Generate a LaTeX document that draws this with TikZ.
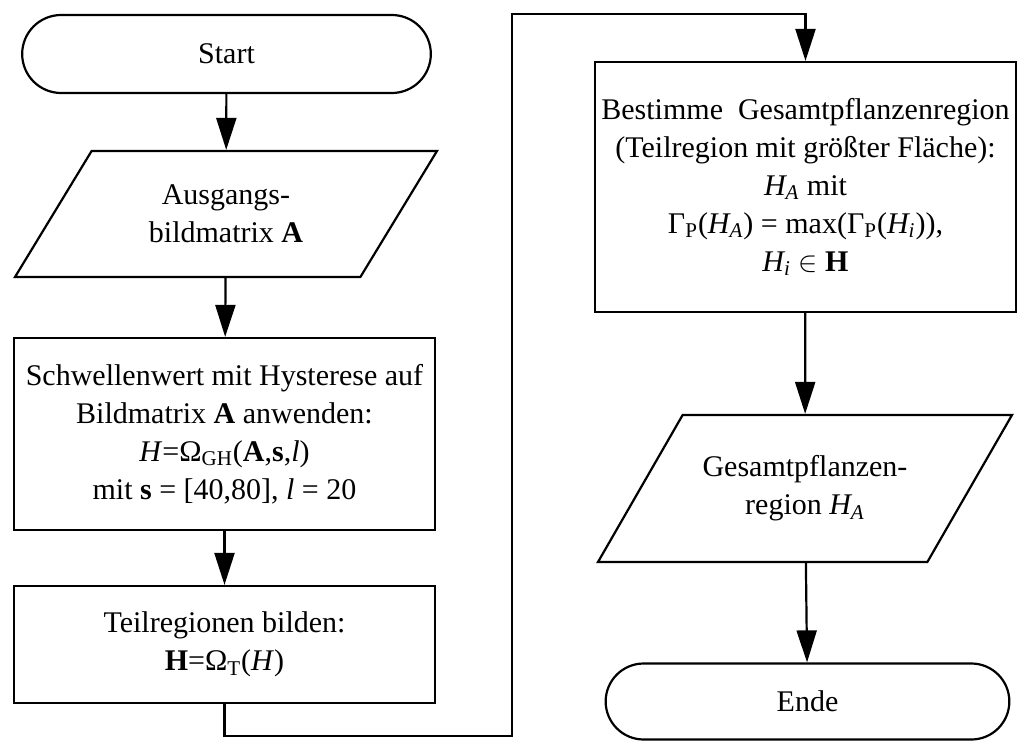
\documentclass[tikz,border=0pt]{standalone}
\usepackage{fontspec}
\setmainfont{Liberation Serif}
\usepackage{amsmath, amssymb}
\usepackage{tikz}
\usetikzlibrary{shapes,arrows.meta}
\tikzstyle{line} = [draw, line width=1.1pt, -{Triangle[length=16pt,width=10pt]}]
\tikzstyle{term} = [draw, line width=1.1pt, rounded rectangle, align=center]
\tikzstyle{io} = [draw, line width=1.1pt, trapezium, trapezium stretches body, align=center]
\tikzstyle{proc} = [draw, line width=1.1pt, rectangle, align=center]

\begin{document}
\begin{tikzpicture}[x=0.5pt, y=-0.5pt, every node/.style={font=\fontsize{15}{19}\selectfont}]
		\useasboundingbox (0,0) rectangle (1029,744);
		\node [term, minimum width=211pt, minimum height=39pt] (start) at (226.5,54) {Start};
		\node [io, trapezium left angle=43, trapezium right angle=137, minimum width=211pt, minimum height=63pt] (ausg) at (226,214) {Ausgangs-\\bildmatrix \textbf{A}};
		\node [proc, minimum width=210.5pt, minimum height=96pt] (schw) at (224.5,434) {Schwellenwert mit Hysterese auf\\Bildmatrix \textbf{A} anwenden:\\\textit{H}=Ω\textsubscript{GH}(\textbf{A},\textbf{s},\textit{l})\\mit \textbf{s} = [40,80], \textit{l} = 20};
		\node [proc, minimum width=210.5pt, minimum height=58.5pt] (teil) at (224.5,644.5) {Teilregionen bilden:\\\textbf{H}=Ω\textsubscript{T}(\textit{H})};
		\node [proc, minimum width=207.5pt, minimum height=125pt] (best) at (805.5,187) {Bestimme\enspace Gesamtpflanzenregion\\(Teilregion mit größter Fläche):\\\textit{H\textsubscript{A}} mit\\Γ\textsubscript{P}(\textit{H\textsubscript{A}}) = max(Γ\textsubscript{P}(\textit{H\textsubscript{i}})),\\\textit{H\textsubscript{i}} $\in$ \textbf{H}};
		\node [io, trapezium left angle=43, trapezium right angle=137, minimum width=207pt, minimum height=73.5pt] (ges) at (805,488.5) {Gesamtpflanzen-\\region \textit{H\textsubscript{A}}};
		\node [term, minimum width=208.5pt, minimum height=38pt] (ende) at (807.5,701.5) {Ende};
		\coordinate (lowturn) at (512,736);
		\coordinate (highturn) at (512,14);
		\path [line] (start) -- (ausg);
		\path [line] (ausg) -- (schw);
		\path [line] (schw) -- (teil);
		\path [line] (teil.south) |- (lowturn) -- (highturn) -| (best.north);
		\path [line] (best) -- (ges);
		\path [line] (ges) -- (ende);
\end{tikzpicture}
\end{document}
